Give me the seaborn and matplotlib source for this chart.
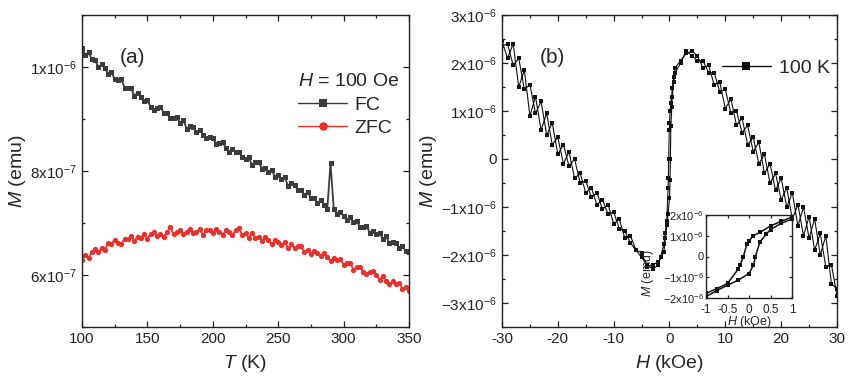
import numpy as np
import pandas as pd
import matplotlib
matplotlib.use("Agg")
import matplotlib.pyplot as plt
import seaborn as sns
from matplotlib.ticker import MultipleLocator, FuncFormatter

# ---------------- data ----------------
# Panel (a): M(T) in units of 1e-7 emu, T step 2.5 K from 100 to 350 K
T_K = [100 + 2.5 * i for i in range(101)]
FC_1e7 = [
    10.36, 10.23, 10.28, 10.15, 10.13, 10.00, 10.05, 9.98, 9.87, 9.90,
    9.77, 9.75, 9.77, 9.60, 9.59, 9.59, 9.45, 9.50, 9.42, 9.34,
    9.36, 9.23, 9.18, 9.22, 9.23, 9.12, 9.12, 9.01, 9.02, 9.03,
    8.93, 8.98, 8.81, 8.86, 8.84, 8.75, 8.79, 8.70, 8.63, 8.66,
    8.64, 8.52, 8.54, 8.56, 8.44, 8.37, 8.42, 8.36, 8.37, 8.26,
    8.24, 8.26, 8.12, 8.17, 8.18, 8.04, 8.05, 7.99, 8.02, 7.89,
    7.93, 7.85, 7.88, 7.72, 7.76, 7.74, 7.63, 7.63, 7.53, 7.60,
    7.48, 7.49, 7.39, 7.44, 7.35, 7.26, 8.15, 7.26, 7.17, 7.21,
    7.14, 7.05, 7.12, 7.01, 7.03, 6.93, 6.93, 6.95, 6.81, 6.85,
    6.79, 6.80, 6.70, 6.75, 6.61, 6.63, 6.61, 6.51, 6.56, 6.46, 6.45,
]
ZFC_1e7 = [
    6.29, 6.39, 6.33, 6.44, 6.50, 6.44, 6.51, 6.48, 6.61, 6.60,
    6.68, 6.62, 6.59, 6.70, 6.69, 6.75, 6.66, 6.73, 6.72, 6.78,
    6.70, 6.79, 6.82, 6.75, 6.78, 6.74, 6.83, 6.92, 6.78, 6.83,
    6.86, 6.78, 6.83, 6.89, 6.80, 6.82, 6.88, 6.77, 6.86, 6.87,
    6.81, 6.88, 6.83, 6.77, 6.86, 6.83, 6.76, 6.86, 6.90, 6.77,
    6.81, 6.71, 6.81, 6.72, 6.74, 6.66, 6.73, 6.67, 6.59, 6.67,
    6.63, 6.57, 6.64, 6.52, 6.59, 6.52, 6.55, 6.56, 6.44, 6.48,
    6.40, 6.47, 6.43, 6.36, 6.43, 6.34, 6.27, 6.33, 6.28, 6.31,
    6.20, 6.23, 6.24, 6.10, 6.15, 6.15, 6.06, 6.01, 6.06, 6.07,
    6.00, 5.91, 5.98, 5.89, 5.82, 5.88, 5.83, 5.85, 5.73, 5.77, 5.69,
]

# Panel (b): M(H) loop at 100 K, M in units of 1e-6 emu
H_down = [30, 29, 28, 27, 26, 25, 24, 23, 22, 21, 20, 19, 18, 17, 16, 15, 14, 13,
          12, 11, 10, 9, 8, 7, 6, 5, 4, 3, 2,
          1, 0.75, 0.5, 0.25, 0.1, 0, -0.05, -0.13, -0.2, -0.25, -0.5, -0.75, -1,
          -2, -3, -4, -5, -6, -7, -8, -9, -10, -11, -12, -13, -14, -15, -16, -17,
          -18, -19, -20, -21, -22, -23, -24, -25, -26, -27, -28, -29, -30]
M_down = [-2.85, -2.2, -2.25, -1.55, -1.9, -1.2, -1.6, -0.95, -1.25, -0.6, -0.85,
          -0.3, -0.5, 0.1, -0.1, 0.45, 0.3, 0.85, 0.7, 1.25, 1.05, 1.6, 1.55, 1.95,
          1.9, 2.15, 2.25, 2.2, 2.05,
          1.9, 1.7, 1.47, 1.16, 1.0, 0.75, 0.6, 0.0, -0.4, -0.6, -1.3, -1.55, -1.78,
          -2.2, -2.3, -2.2, -2.05, -1.9, -1.75, -1.5, -1.45, -1.1, -1.15, -0.85,
          -0.95, -0.6, -0.7, -0.3, -0.4, 0.15, -0.1, 0.45, 0.3, 0.95, 0.6, 1.3,
          0.9, 1.85, 1.5, 2.4, 2.1, 2.45]
H_up = [-30, -29, -28, -27, -26, -25, -24, -23, -22, -21, -20, -19, -18, -17, -16,
        -15, -14, -13, -12, -11, -10, -9, -8, -7, -6, -5, -4, -3, -2, -1.5,
        -1, -0.75, -0.5, -0.25, 0, 0.1, 0.15, 0.25, 0.4, 0.5, 0.75, 1,
        2, 3, 4, 5, 6, 7, 8, 9, 10, 11, 12, 13, 14, 15, 16, 17, 18, 19, 20,
        21, 22, 23, 24, 25, 26, 27, 28, 29, 30]
M_up = [2.35, 2.4, 1.95, 2.1, 1.45, 1.55, 0.95, 1.2, 0.5, 0.75, 0.1, 0.3, -0.15,
        0.0, -0.5, -0.45, -0.8, -0.7, -1.05, -0.95, -1.35, -1.25, -1.65, -1.6,
        -1.9, -1.95, -2.25, -2.2, -2.15, -2.05,
        -1.93, -1.65, -1.38, -1.14, -0.82, -0.43, 0.0, 0.68, 1.08, 1.3, 1.6, 1.8,
        2.0, 2.25, 2.15, 2.05, 2.05, 1.8, 1.8, 1.4, 1.45, 0.95, 1.0, 0.55, 0.7,
        0.15, 0.35, -0.3, -0.1, -0.65, -0.4, -1.0, -0.7, -1.4, -1.0, -1.65, -1.25,
        -2.0, -1.6, -2.6, -2.7]

# ---------------- style ----------------
sns.set_theme(style="ticks")
plt.rcParams["font.family"] = ["Liberation Sans", "DejaVu Sans"]
plt.rcParams["mathtext.fontset"] = "custom"
plt.rcParams["mathtext.rm"] = "Liberation Sans"
plt.rcParams["mathtext.it"] = "Liberation Sans:italic"
plt.rcParams["axes.linewidth"] = 1.0
plt.rcParams["axes.edgecolor"] = "#222222"
plt.rcParams["axes.unicode_minus"] = False

def sci_fmt(v, pos):
    if abs(v) < 1e-12:
        return "0"
    exp = int(np.floor(np.log10(abs(v)) + 1e-9))
    mant = v / 10 ** exp
    return r"$%d\mathrm{x}10^{%d}$" % (round(mant), exp)

def style_axis(ax, size=11, major=4, minor=2.5):
    ax.tick_params(which="both", direction="in", top=True, right=True,
                   labelsize=size, colors="#222222", width=0.9)
    ax.tick_params(which="major", length=major)
    ax.tick_params(which="minor", length=minor)

fig = plt.figure(figsize=(8.52, 3.85), dpi=100)

# ---------------- panel (a) ----------------
ax1 = fig.add_axes([82 / 852, 58 / 385, 327 / 852, 312 / 385])
dfa = pd.DataFrame({"T": T_K,
                    "FC": [v * 1e-7 for v in FC_1e7],
                    "ZFC": [v * 1e-7 for v in ZFC_1e7]})
sns.lineplot(data=dfa, x="T", y="FC", ax=ax1, color="#3c3c3c", marker="s",
             markersize=3.6, markeredgewidth=0, linewidth=1.3, label="FC",
             estimator=None, sort=False)
sns.lineplot(data=dfa, x="T", y="ZFC", ax=ax1, color="#e8302c", marker="o",
             markersize=3.8, markeredgewidth=0, linewidth=1.3, label="ZFC",
             estimator=None, sort=False)
ax1.set_xlim(100, 350)
ax1.set_ylim(5.0e-7, 1.1e-6)
ax1.xaxis.set_major_locator(MultipleLocator(50))
ax1.xaxis.set_minor_locator(MultipleLocator(25))
ax1.yaxis.set_major_locator(MultipleLocator(2e-7))
ax1.yaxis.set_minor_locator(MultipleLocator(1e-7))
ax1.yaxis.set_major_formatter(FuncFormatter(sci_fmt))
style_axis(ax1)
ax1.set_xlabel(r"$T$ (K)", fontsize=14, labelpad=5)
ax1.set_ylabel(r"$M$ (emu)", fontsize=14, labelpad=2)
ax1.text(0.115, 0.865, "(a)", transform=ax1.transAxes, fontsize=15,
         ha="left", va="center")
leg1 = ax1.legend(title=r"$H$ = 100 Oe", loc="upper right",
                  bbox_to_anchor=(1.025, 0.87), frameon=False, fontsize=14,
                  title_fontsize=14, handlelength=2.5, handletextpad=0.4,
                  labelspacing=0.3, markerscale=1.6, alignment="left")
for line in leg1.get_lines():
    line.set_linewidth(1.0)

# ---------------- panel (b) ----------------
ax2 = fig.add_axes([502 / 852, 58 / 385, 335 / 852, 312 / 385])
H_all = H_down + H_up
M_all = [v * 1e-6 for v in (M_down + M_up)]
dfb = pd.DataFrame({"H": H_all, "M": M_all})
sns.lineplot(data=dfb, x="H", y="M", ax=ax2, color="#111111", marker="s",
             markersize=2.8, markeredgewidth=0, linewidth=0.8, label="100 K",
             estimator=None, sort=False)
ax2.set_xlim(-30, 30)
ax2.set_ylim(-3.5e-6, 3.0e-6)
ax2.xaxis.set_major_locator(MultipleLocator(10))
ax2.xaxis.set_minor_locator(MultipleLocator(5))
ax2.yaxis.set_major_locator(MultipleLocator(1e-6))
ax2.yaxis.set_minor_locator(MultipleLocator(5e-7))
ax2.yaxis.set_major_formatter(FuncFormatter(sci_fmt))
style_axis(ax2)
ax2.set_xlabel(r"$H$ (kOe)", fontsize=14, labelpad=5)
ax2.set_ylabel(r"$M$ (emu)", fontsize=14, labelpad=2)
ax2.text(0.113, 0.865, "(b)", transform=ax2.transAxes, fontsize=15,
         ha="left", va="center")
leg2 = ax2.legend(loc="upper right", bbox_to_anchor=(1.03, 0.915), frameon=False,
                  fontsize=14, handlelength=2.5, handletextpad=0.4,
                  markerscale=2.1)
for line in leg2.get_lines():
    line.set_linewidth(1.0)

# ---------------- inset ----------------
ax3 = fig.add_axes([706 / 852, 87 / 385, 86 / 852, 83 / 385])
ax3.set_facecolor("white")
dfi = dfb[(dfb["H"] >= -1) & (dfb["H"] <= 1)].reset_index(drop=True)
n_down_in = sum(1 for h in H_down if -1 <= h <= 1)
sns.lineplot(data=dfi.iloc[:n_down_in], x="H", y="M", ax=ax3, color="#111111",
             marker="s", markersize=2.2, markeredgewidth=0, linewidth=1.1,
             estimator=None, sort=False, legend=False)
sns.lineplot(data=dfi.iloc[n_down_in:], x="H", y="M", ax=ax3, color="#111111",
             marker="s", markersize=2.2, markeredgewidth=0, linewidth=1.1,
             estimator=None, sort=False, legend=False)
ax3.set_xlim(-1, 1)
ax3.set_ylim(-2e-6, 2e-6)
ax3.xaxis.set_major_locator(MultipleLocator(0.5))
ax3.yaxis.set_major_locator(MultipleLocator(1e-6))
ax3.yaxis.set_major_formatter(FuncFormatter(sci_fmt))
ax3.xaxis.set_major_formatter(FuncFormatter(lambda v, p: "%g" % v))
style_axis(ax3, size=8.5, major=2.5, minor=1.5)
ax3.tick_params(axis="y", labelsize=8)
ax3.tick_params(axis="x", pad=4)
ax3.tick_params(axis="y", pad=1.5)
ax3.set_xlabel(r"$H$ (kOe)", fontsize=9, labelpad=-1)
ax3.set_ylabel(r"$M$ (emu)", fontsize=9)
ax3.yaxis.set_label_coords(-0.58, 0.3)

fig.savefig("out.png", dpi=100)
